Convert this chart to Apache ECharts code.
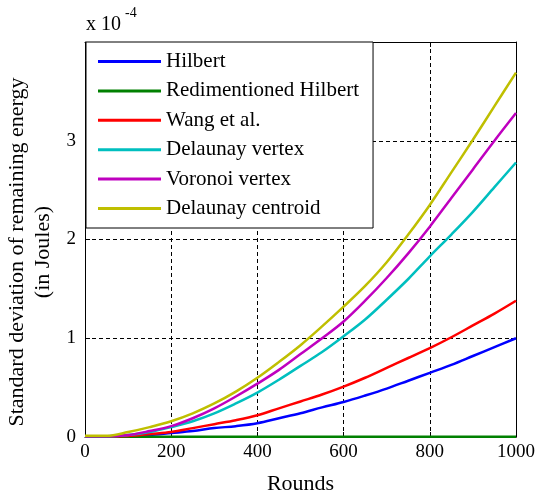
<!DOCTYPE html>
<html>
<head>
<meta charset="utf-8">
<script src="https://cdn.jsdelivr.net/npm/echarts@6/dist/echarts.min.js"></script>
<style>
  html, body { margin: 0; padding: 0; background: #fff; }
  #chart { width: 535px; height: 494px; }
</style>
</head>
<body>
<div id="chart"></div>
<script>
// rounds (x) and std dev values in units of 1e-4 J
const rounds = [0, 50, 100, 150, 200, 250, 300, 350, 400, 450, 500,
  550, 600, 650, 700, 750, 800, 850, 900, 950, 1000];
const hilbert = [0.005, 0.005, 0.01, 0.02, 0.04, 0.06, 0.09, 0.11, 0.14, 0.19, 0.24,
  0.30, 0.355, 0.42, 0.49, 0.57, 0.65, 0.73, 0.82, 0.91, 1.00];
const redimHilbert = [0.003, 0.003, 0.003, 0.003, 0.003, 0.003, 0.003, 0.003, 0.003, 0.003, 0.003,
  0.003, 0.003, 0.003, 0.003, 0.003, 0.003, 0.003, 0.003, 0.003, 0.003];
const wang = [0.008, 0.008, 0.01, 0.03, 0.05, 0.09, 0.13, 0.17, 0.22, 0.29, 0.36,
  0.43, 0.51, 0.60, 0.70, 0.80, 0.90, 1.01, 1.13, 1.25, 1.38];
const delaunayVertex = [0.008, 0.008, 0.02, 0.05, 0.10, 0.16, 0.24, 0.34, 0.45, 0.58, 0.72,
  0.86, 1.02, 1.19, 1.39, 1.60, 1.83, 2.05, 2.28, 2.53, 2.78];
const voronoiVertex = [0.008, 0.008, 0.02, 0.06, 0.11, 0.19, 0.29, 0.41, 0.54, 0.68, 0.84,
  1.00, 1.17, 1.38, 1.61, 1.86, 2.13, 2.42, 2.71, 3.00, 3.28];
const delaunayCentroid = [0.012, 0.012, 0.05, 0.10, 0.16, 0.24, 0.34, 0.46, 0.60, 0.76, 0.93,
  1.12, 1.32, 1.53, 1.77, 2.05, 2.35, 2.68, 3.01, 3.35, 3.69];

const seriesDefs = [
  { name: "Hilbert", data: hilbert, color: "#0000ff" },
  { name: "Redimentioned Hilbert", data: redimHilbert, color: "#008000" },
  { name: "Wang et al.", data: wang, color: "#ff0000" },
  { name: "Delaunay vertex", data: delaunayVertex, color: "#00bfbf" },
  { name: "Voronoi vertex", data: voronoiVertex, color: "#bf00bf" },
  { name: "Delaunay centroid", data: delaunayCentroid, color: "#bfbf00" },
];

const font = "Liberation Serif";
const tick = { inside: true, length: 5, lineStyle: { color: "#000" } };
const dash = { show: true, lineStyle: { color: "#000", type: [4, 3], width: 1 } };

let myChart = echarts.init(document.getElementById("chart"));
let option = {
  animation: false,
  textStyle: { fontFamily: font },
  grid: {
    left: 85,
    right: 19,
    top: 42,
    bottom: 57,
    containLabel: false,
    outerBoundsMode: "none",
  },
  legend: {
    orient: "vertical",
    left: 86,
    top: 42,
    padding: [9, 14, 9, 12],
    icon: "rect",
    itemWidth: 63,
    itemHeight: 3,
    itemGap: 8.4,
    backgroundColor: "#fff",
    borderColor: "#000",
    borderWidth: 1,
    textStyle: { fontFamily: font, fontSize: 21, lineHeight: 21, color: "#000" },
    data: seriesDefs.map((s) => s.name),
  },
  xAxis: [
    {
      type: "value",
      min: 0,
      max: 1000,
      interval: 200,
      name: "Rounds",
      nameLocation: "middle",
      nameGap: 36,
      nameTextStyle: { fontFamily: font, fontSize: 22, color: "#000" },
      axisLine: { show: true, lineStyle: { color: "#000" } },
      axisTick: tick,
      axisLabel: { fontFamily: font, fontSize: 19, color: "#000", margin: 6, formatter: (v) => String(v) },
      splitLine: dash,
    },
    {
      type: "value",
      position: "top",
      min: 0,
      max: 1000,
      interval: 200,
      axisLine: { show: true, onZero: false, lineStyle: { color: "#000" } },
      axisTick: tick,
      axisLabel: { show: false },
      splitLine: { show: false },
    },
  ],
  yAxis: [
    {
      type: "value",
      min: 0,
      max: 4,
      interval: 1,
      axisLine: { show: true, onZero: false, lineStyle: { color: "#000" } },
      axisTick: tick,
      axisLabel: {
        fontFamily: font,
        fontSize: 19,
        color: "#000",
        margin: 9,
        formatter: (v) => (v === 4 ? "" : String(v)),
      },
      splitLine: dash,
    },
    {
      type: "value",
      position: "right",
      min: 0,
      max: 4,
      interval: 1,
      axisLine: { show: true, onZero: false, lineStyle: { color: "#000" } },
      axisTick: tick,
      axisLabel: { show: false },
      splitLine: { show: false },
    },
  ],
  graphic: [
    {
      type: "text",
      left: 86,
      top: 15,
      style: { text: "x 10", fontFamily: font, fontSize: 20, fill: "#000" },
    },
    {
      type: "text",
      left: 125,
      top: 6,
      style: { text: "-4", fontFamily: font, fontSize: 14, fill: "#000" },
    },
    {
      type: "text",
      x: 30,
      y: 252,
      rotation: Math.PI / 2,
      style: {
        text: "Standard deviation of remaining energy\n(in Joules)",
        fontFamily: font,
        fontSize: 22,
        lineHeight: 26,
        fill: "#000",
        align: "center",
        verticalAlign: "middle",
      },
    },
  ],
  series: seriesDefs.map((s) => ({
    name: s.name,
    type: "line",
    showSymbol: false,
    symbol: "none",
    smooth: 0.35,
    xAxisIndex: 0,
    yAxisIndex: 0,
    data: rounds.map((r, i) => [r, s.data[i]]),
    lineStyle: { color: s.color, width: 2.5 },
    itemStyle: { color: s.color },
  })),
};
myChart.setOption(option);
</script>
</body>
</html>
